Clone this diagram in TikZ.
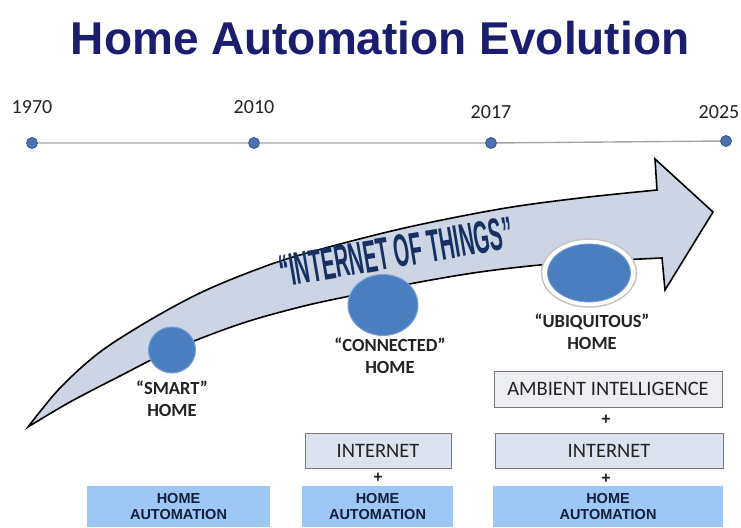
\documentclass[tikz,border=0pt]{standalone}
\usepackage{fontspec}
\setmainfont{Carlito}
\newfontfamily\arialfont{Liberation Sans}
\usetikzlibrary{shapes.geometric}
\definecolor{titlenavy}{RGB}{27,30,110}
\definecolor{arrowfill}{RGB}{205,212,228}
\definecolor{dotblue}{RGB}{74,114,176}
\definecolor{dotedge}{RGB}{55,85,135}
\definecolor{circblue}{RGB}{74,126,191}
\definecolor{circedge}{RGB}{120,160,215}
\definecolor{netfill}{RGB}{221,227,238}
\definecolor{ambfill}{RGB}{236,238,242}
\definecolor{boxedge}{RGB}{120,120,120}
\definecolor{homefill}{RGB}{157,200,245}
\definecolor{hometext}{RGB}{18,30,60}
\definecolor{labeltext}{RGB}{35,35,35}
\definecolor{iotnavy}{RGB}{22,48,98}
\tikzset{
  yeardot/.style={circle, fill=dotblue, draw=dotedge, line width=0.8pt, inner sep=0pt, minimum size=11pt},
  yearlbl/.style={font=\fontsize{20}{21}\selectfont, text=labeltext},
  stagelbl/.style={font=\fontsize{18.5}{22}\selectfont\bfseries, text=labeltext, align=center},
  graybox/.style={draw=boxedge, line width=1pt, fill=netfill, font=\fontsize{20.5}{22}\selectfont, text=labeltext, inner sep=0pt},
  homebox/.style={fill=homefill, font=\arialfont\bfseries\fontsize{14.5}{16}\selectfont, text=hometext, align=center, inner sep=0pt},
  plussign/.style={font=\arialfont\bfseries\fontsize{16}{16}\selectfont, text=labeltext, inner sep=0pt},
  bluecirc/.style={ellipse, fill=circblue, draw=circedge, line width=1pt, inner sep=0pt}
}
\begin{document}
\begin{tikzpicture}[x=1pt,y=-1pt]
\useasboundingbox[fill=white] (0,0) rectangle (741,527);
% title
\node[font=\arialfont\bfseries\fontsize{46}{50}\selectfont, text=titlenavy, anchor=base] (title) at (380,55) {Home Automation Evolution};
% timeline
\node[yeardot] (d1) at (32,143) {};
\node[yeardot] (d2) at (254,143) {};
\node[yeardot] (d3) at (491,143) {};
\node[yeardot] (d4) at (726,141) {};
\draw[gray!70, line width=1.4pt] (d1) -- (d2) -- (d3) -- (d4);
\node[yearlbl] (y1) at (32,107) {1970};
\node[yearlbl] (y2) at (254,107) {2010};
\node[yearlbl] (y3) at (491,112) {2017};
\node[yearlbl] (y4) at (719,112) {2025};
% big curved arrow
\path[fill=arrowfill, draw=black, line width=1.6pt, line join=miter]
  plot[smooth, tension=0.55] coordinates {(28,427) (60,388) (100,352) (150,320) (200,293) (250,272) (300,255) (400,229) (500,209) (580,198) (657,190)}
  -- (655,159) -- (713,212) -- (665,290) -- (662,258)
  -- plot[smooth, tension=0.55] coordinates {(662,258) (600,261) (540,265) (480,272) (420,282) (350,296) (300,307) (240,324) (172,350) (120,376) (70,402) (28,427)}
  -- cycle;
% internet of things text
\node[rotate=9.5, text=iotnavy, inner sep=0pt] (iot) at (396,252) {\resizebox{236pt}{32pt}{\arialfont\bfseries “INTERNET OF THINGS”}};
% stage circles
\node[bluecirc, minimum width=47pt, minimum height=46pt] (smart) at (172,350) {};
\node[bluecirc, minimum width=70pt, minimum height=61pt] (connected) at (383,305) {};
\node[ellipse, fill=white, draw=gray!45, line width=1.5pt, minimum width=95pt, minimum height=68pt, inner sep=0pt] (ubiring) at (589,273) {};
\node[ellipse, fill=circblue, draw=circedge, line width=0.8pt, minimum width=83pt, minimum height=58pt, inner sep=0pt] (ubiquitous) at (589,273) {};
% stage labels
\node[stagelbl] (smartlbl) at (172,399) {“SMART”\\HOME};
\node[stagelbl] (connlbl) at (390,356) {“CONNECTED”\\HOME};
\node[stagelbl] (ubilbl) at (592,332) {“UBIQUITOUS”\\HOME};
% boxes
\node[graybox, fill=ambfill, minimum width=228pt, minimum height=36pt] (amb) at (608,389) {AMBIENT INTELLIGENCE};
\node[plussign] (p3) at (606,420) {+};
\node[graybox, minimum width=228pt, minimum height=35pt] (net3) at (609,450.5) {INTERNET};
\node[plussign] (p4) at (606,479) {+};
\node[graybox, minimum width=146pt, minimum height=35pt] (net2) at (378,450.5) {INTERNET};
\node[plussign] (p2) at (378,478) {+};
\node[homebox, minimum width=183pt, minimum height=41pt] (home1) at (178.5,506.5) {HOME\\AUTOMATION};
\node[homebox, minimum width=151pt, minimum height=41pt] (home2) at (377.5,506.5) {HOME\\AUTOMATION};
\node[homebox, minimum width=230pt, minimum height=41pt] (home3) at (608,506.5) {HOME\\AUTOMATION};
\end{tikzpicture}
\end{document}
